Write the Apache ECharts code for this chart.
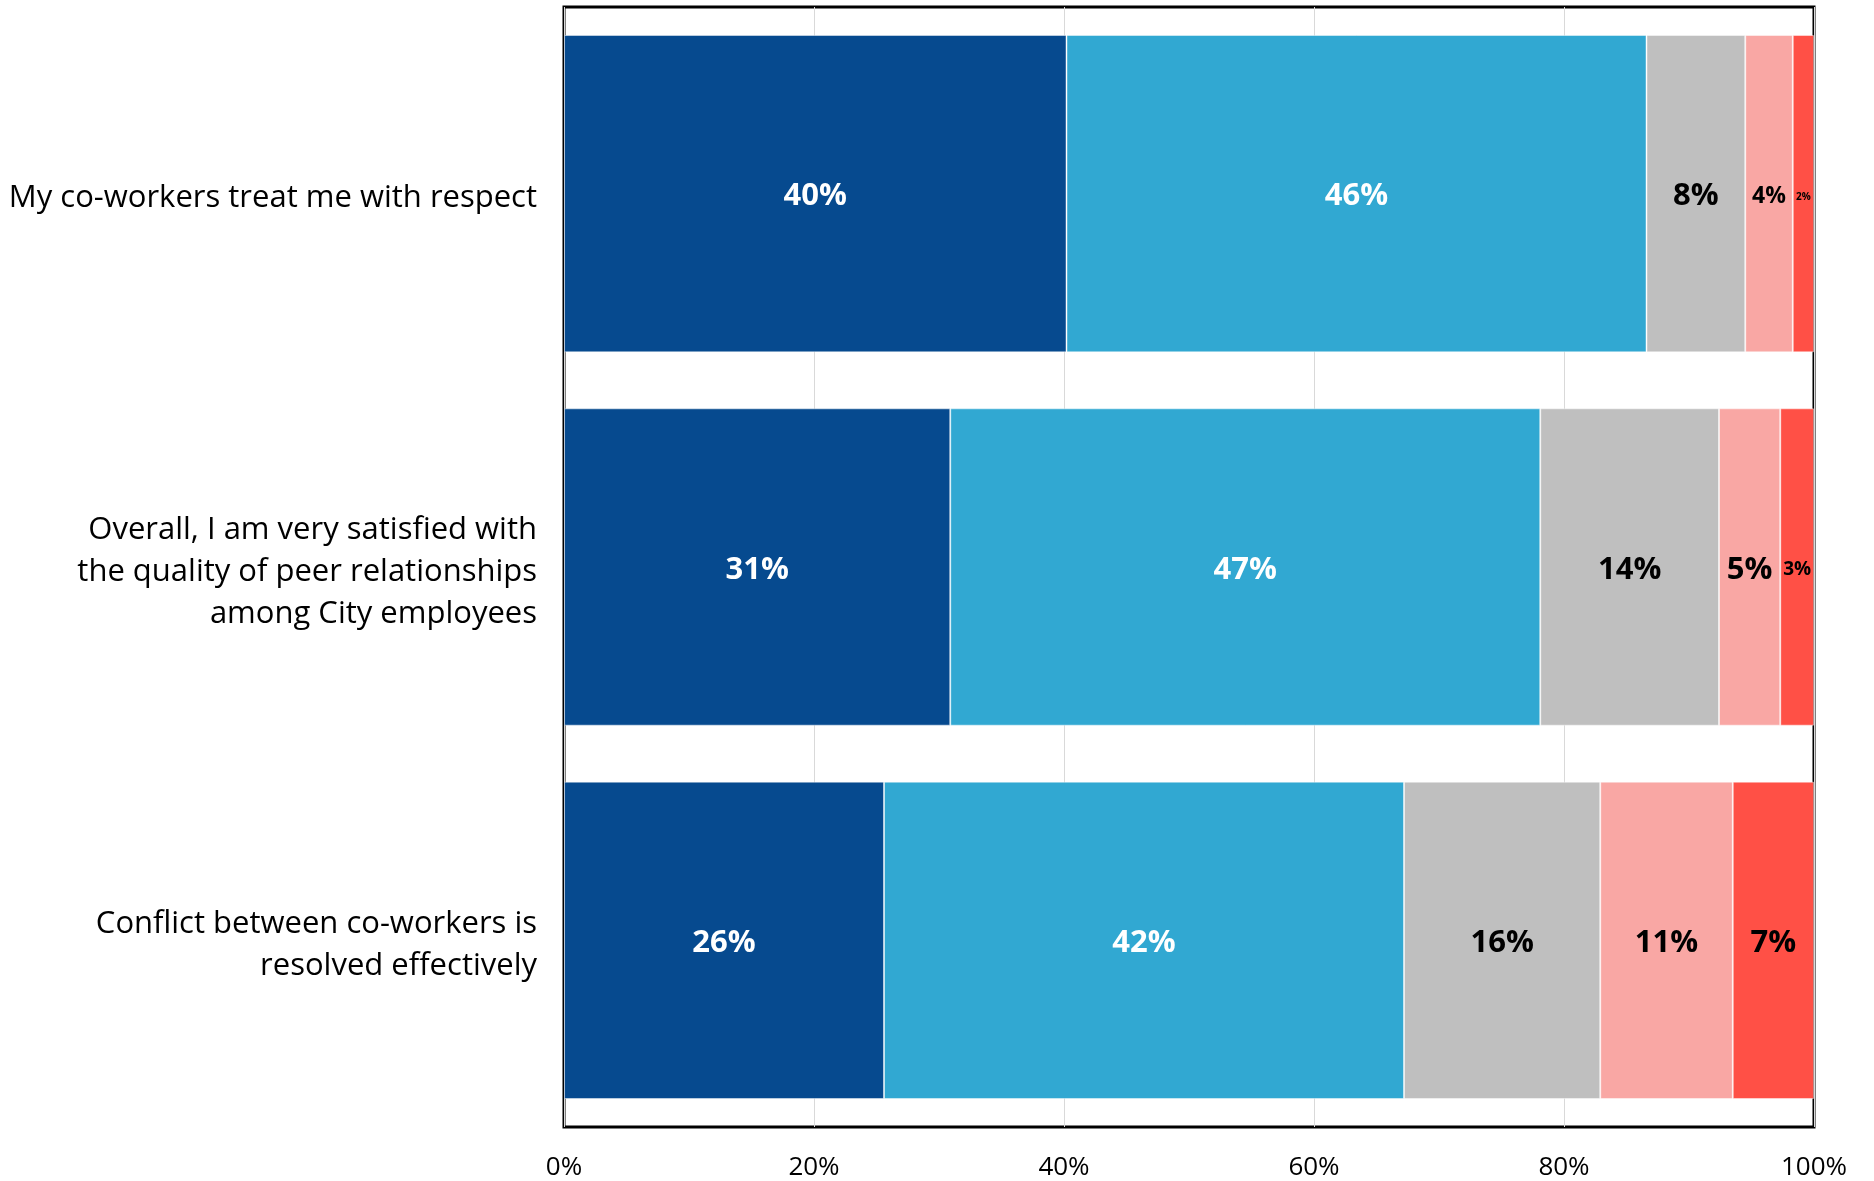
<!DOCTYPE html>
<html>
<head>
<meta charset="utf-8">
<script src="https://cdn.jsdelivr.net/npm/echarts@6/dist/echarts.min.js"></script>
<style>
  html, body { margin: 0; padding: 0; background: #fff; }
  #chart { width: 1874px; height: 1181px; }
</style>
</head>
<body>
<div id="chart"></div>
<script>
// Survey statements (top to bottom)
const statements = [
  'My co-workers treat me with respect',
  'Overall, I am very satisfied with\nthe quality of peer relationships\namong City employees',
  'Conflict between co-workers is\nresolved effectively'
];

// Share of responses per statement (percent)
const stronglyAgree    = [40.2, 30.9, 25.6];
const agree            = [46.4, 47.2, 41.6];
const neutral          = [7.9, 14.3, 15.7];
const disagree         = [3.8, 4.9, 10.6];
const stronglyDisagree = [1.7, 2.7, 6.5];

const xTicks = [0, 20, 40, 60, 80, 100];

const FONT = '"Open Sans", "Noto Sans", sans-serif';

// Narrow segments get smaller value labels so they fit inside the bar
function labelSize(v) {
  if (v < 2.5) return 10;
  if (v < 3.5) return 19;
  if (v < 4.5) return 23;
  return 31;
}

function makeSeries(name, values, color, textColor) {
  return {
    name: name,
    type: 'bar',
    stack: 'total',
    barWidth: '85%',
    itemStyle: { color: color, borderColor: 'rgba(255,255,255,0.45)', borderWidth: 1 },
    label: {
      show: true,
      position: 'inside',
      offset: [0, 3],
      color: textColor,
      fontWeight: 'bold',
      fontFamily: FONT,
      formatter: p => Math.round(p.value) + '%'
    },
    data: values.map(v => ({ value: v, label: { fontSize: labelSize(v) } }))
  };
}

// Category labels: a thin spacer line on top nudges the text block
// slightly below the band centre
function statementLabel(text) {
  return '{sp| }\n' + text.split('\n').map(l => '{line|' + l + '}').join('\n');
}

const chart = echarts.init(document.getElementById('chart'), null, { renderer: 'canvas' });

chart.setOption({
  animation: false,
  backgroundColor: '#fff',
  grid: {
    left: 564, right: 60, top: 7, bottom: 54,
    show: true,
    borderColor: '#000',
    borderWidth: 3,
    backgroundColor: 'transparent'
  },
  xAxis: {
    type: 'value',
    min: xTicks[0],
    max: xTicks[xTicks.length - 1],
    interval: 20,
    axisLine: { show: false },
    axisTick: { show: false },
    splitLine: { show: true, lineStyle: { color: '#d9d9d9', width: 1 } },
    axisLabel: {
      margin: 28,
      color: '#000',
      fontSize: 26,
      fontFamily: FONT,
      formatter: v => v + '%'
    }
  },
  yAxis: {
    type: 'category',
    inverse: true,
    data: statements,
    axisLine: { show: false },
    axisTick: { show: false },
    splitLine: { show: false },
    axisLabel: {
      margin: 27,
      color: '#000',
      fontSize: 31,
      lineHeight: 42,
      align: 'right',
      fontFamily: FONT,
      formatter: statementLabel,
      rich: {
        sp: { fontSize: 1, lineHeight: 10 },
        line: { fontSize: 31, lineHeight: 42, color: '#000', fontFamily: FONT, align: 'right' }
      }
    }
  },
  series: [
    makeSeries('Strongly agree', stronglyAgree, '#064a8f', '#fff'),
    makeSeries('Agree', agree, '#31a8d2', '#fff'),
    makeSeries('Neutral', neutral, '#bfbfbf', '#000'),
    makeSeries('Disagree', disagree, '#f9a7a4', '#000'),
    makeSeries('Strongly disagree', stronglyDisagree, '#ff5046', '#000')
  ]
});
</script>
</body>
</html>
